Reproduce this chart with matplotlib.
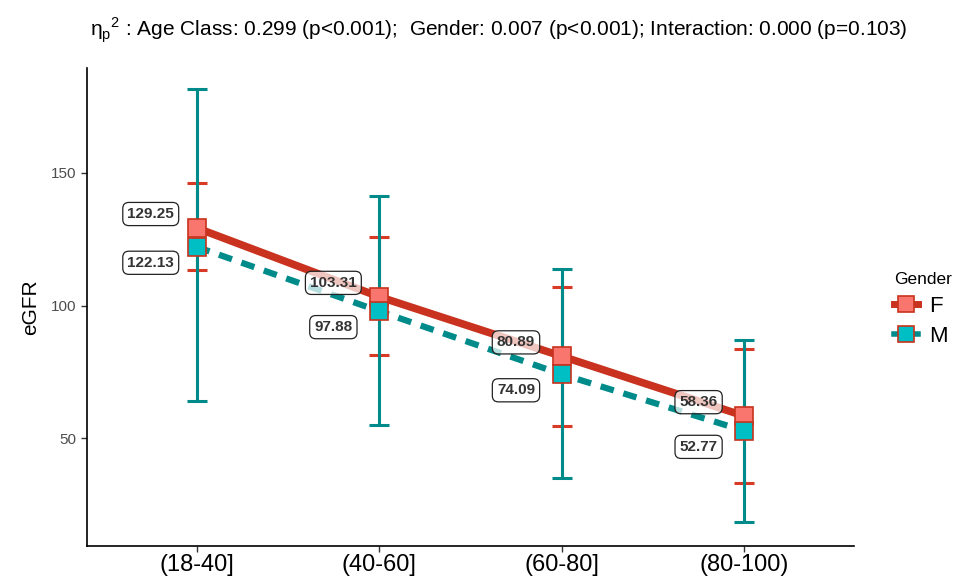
import matplotlib
matplotlib.use("Agg")
import matplotlib.pyplot as plt
import numpy as np
from matplotlib.lines import Line2D

plt.rcParams['font.family'] = ['Liberation Sans', 'DejaVu Sans']

categories = ["(18-40]", "(40-60]", "(60-80]", "(80-100)"]
f_mean = [129.25, 103.31, 80.89, 58.36]
m_mean = [122.13, 97.88, 74.09, 52.77]
f_lo = [113.5, 81.2, 54.5, 33.1]
f_hi = [146.2, 125.9, 106.8, 83.5]
m_lo = [63.9, 54.9, 35.0, 18.4]
m_hi = [181.6, 141.4, 113.9, 87.2]
yticks = [50, 100, 150]

red_line = "#C8321E"
red_cap = "#D83A26"
teal = "#008B8B"
f_fill = "#F8766D"
m_fill = "#00BFC4"

fig = plt.figure(figsize=(9.6, 5.83), dpi=100)
ax = fig.add_axes([87/960, 1-546/583, (854-87)/960, (546-68)/583])

x = np.arange(1, len(categories)+1)

# error bars
ax.errorbar(x, f_mean, yerr=[np.array(f_mean)-np.array(f_lo), np.array(f_hi)-np.array(f_mean)],
            fmt='none', ecolor=red_cap, elinewidth=2.2, capsize=7, capthick=2.2, zorder=2)
ax.errorbar(x, m_mean, yerr=[np.array(m_mean)-np.array(m_lo), np.array(m_hi)-np.array(m_mean)],
            fmt='none', ecolor=teal, elinewidth=2.2, capsize=7, capthick=2.2, zorder=3)

# lines
ax.plot(x, f_mean, color=red_line, lw=5.5, solid_capstyle='butt', zorder=4)
ax.plot(x, m_mean, color=teal, lw=4.5, linestyle=(0, (2.2, 1.6)), zorder=4)

# markers
ax.plot(x, f_mean, linestyle='none', marker='s', ms=12.5, mfc=f_fill, mec=red_line, mew=1.2, zorder=6)
ax.plot(x, m_mean, linestyle='none', marker='s', ms=12.5, mfc=m_fill, mec=red_line, mew=1.2, zorder=6)

# labels
bbox_style = dict(boxstyle='round,pad=0.3,rounding_size=0.4', fc=(1, 1, 1, 0.72),
                  ec='#222222', lw=0.9)
for xi, v in zip(x, f_mean):
    ax.annotate(f"{v:.2f}", (xi, v), xytext=(-33, 10), textcoords='offset points',
                ha='center', va='center', fontsize=11, fontweight='bold', color='#333333',
                bbox=bbox_style, zorder=5)
for xi, v in zip(x, m_mean):
    ax.annotate(f"{v:.2f}", (xi, v), xytext=(-33, -11.5), textcoords='offset points',
                ha='center', va='center', fontsize=11, fontweight='bold', color='#333333',
                bbox=bbox_style, zorder=5)

ax.set_xlim(0.4, 4.6)
ax.set_ylim(9.4, 189.5)
ax.set_xticks(x)
ax.set_xticklabels(categories, fontsize=17, color='black')
ax.set_yticks(yticks)
ax.set_yticklabels([str(t) for t in yticks], fontsize=11, color='#4D4D4D')
ax.tick_params(axis='both', length=4, width=1, color='#333333')
ax.tick_params(axis='x', pad=2)
for s in ['top', 'right']:
    ax.spines[s].set_visible(False)
for s in ['left', 'bottom']:
    ax.spines[s].set_linewidth(1.2)
    ax.spines[s].set_color('black')
ax.set_ylabel("eGFR", fontsize=15, labelpad=8)

# title
fig.text(499/960, 1-30/583,
         r"η$_\mathregular{p}$$^\mathregular{2}$ : Age Class: 0.299 (p<0.001);  Gender: 0.007 (p<0.001); Interaction: 0.000 (p=0.103)",
         ha='center', va='center', fontsize=15)

# legend
h_f = Line2D([], [], color=red_line, lw=5, marker='s', ms=12, mfc=f_fill, mec=red_line, mew=1.2)
h_m = Line2D([], [], color=teal, lw=4, marker='s', ms=12, mfc=m_fill, mec=red_line, mew=1.2)
leg = fig.legend([h_f, h_m], ["F", "M"], title="Gender", loc='upper left',
                 bbox_to_anchor=(874/960, 1-252/583), frameon=False, fontsize=16,
                 title_fontsize=12.5, handlelength=1.1, handletextpad=0.5, labelspacing=0.4)
leg._legend_box.align = 'left'

fig.savefig("out.png", dpi=100)
